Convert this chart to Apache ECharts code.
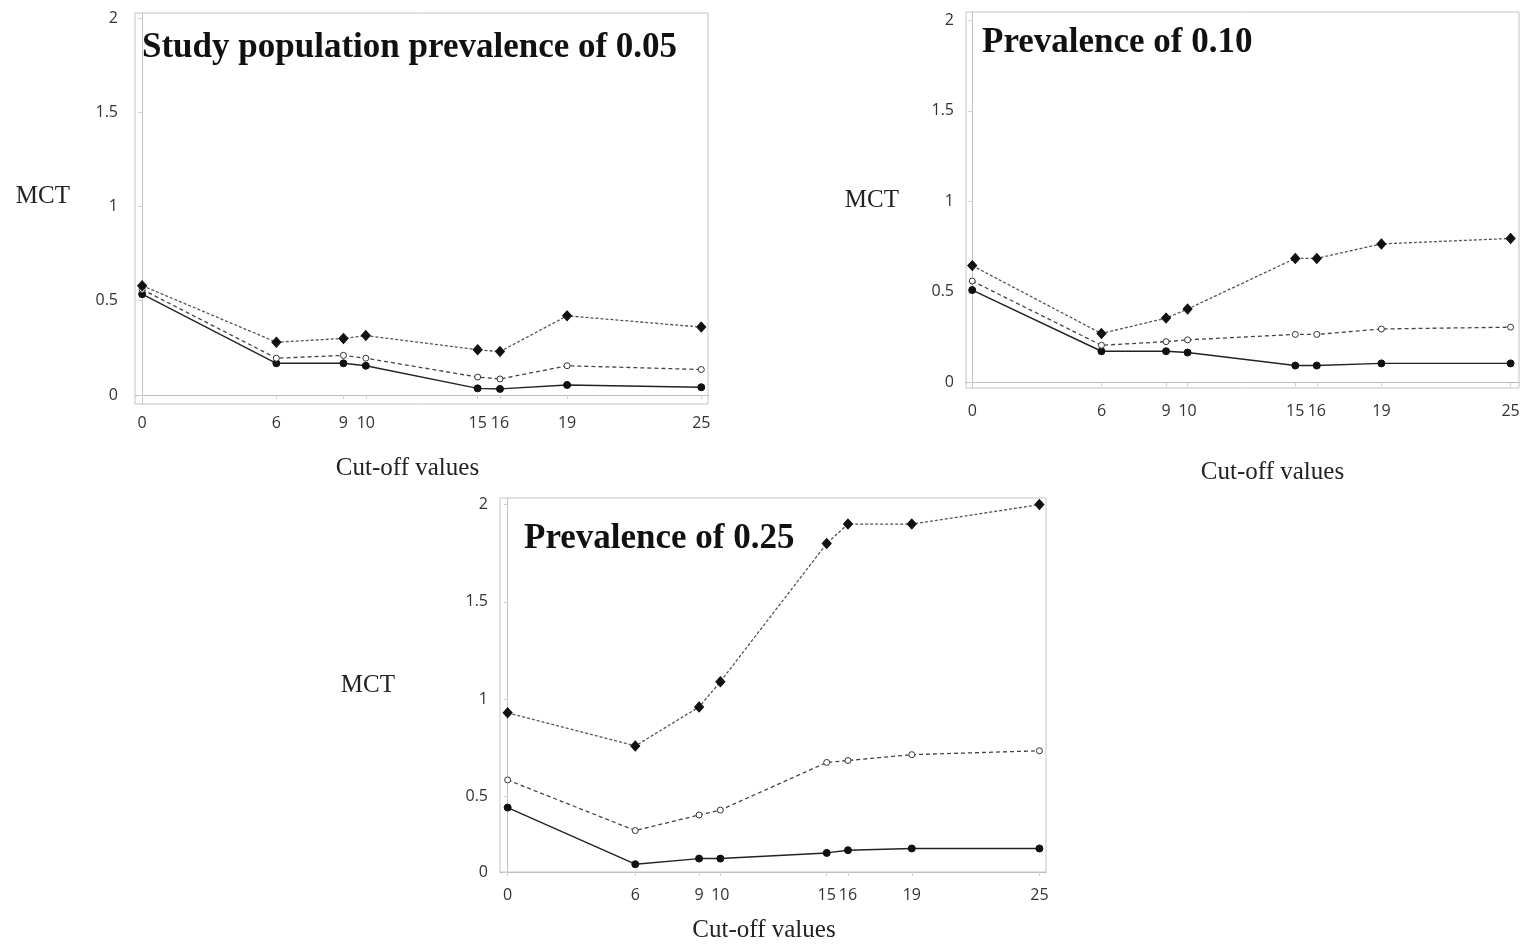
<!DOCTYPE html>
<html>
<head>
<meta charset="utf-8">
<script src="https://cdn.jsdelivr.net/npm/echarts@6/dist/echarts.min.js"></script>
<style>
  html, body { margin: 0; padding: 0; background: #fff; }
  #chart { width: 1539px; height: 944px; }
</style>
</head>
<body>
<div id="chart"></div>
<script>
// Cut-off values on the x axis
const cutoffs = [0, 6, 9, 10, 15, 16, 19, 25];
const yTicks = [0, 0.5, 1, 1.5, 2];

// MCT by cut-off, prevalence 0.05
const p05Upper = [0.58, 0.28, 0.30, 0.315, 0.24, 0.23, 0.42, 0.36];
const p05Middle = [0.56, 0.195, 0.21, 0.195, 0.095, 0.085, 0.155, 0.135];
const p05Lower = [0.535, 0.168, 0.168, 0.155, 0.035, 0.032, 0.053, 0.041];

// MCT by cut-off, prevalence 0.10
const p10Upper = [0.645, 0.27, 0.355, 0.405, 0.685, 0.685, 0.765, 0.795];
const p10Middle = [0.56, 0.205, 0.225, 0.235, 0.265, 0.265, 0.295, 0.305];
const p10Lower = [0.51, 0.172, 0.172, 0.165, 0.093, 0.093, 0.105, 0.105];

// MCT by cut-off, prevalence 0.25
const p25Upper = [0.93, 0.76, 0.96, 1.09, 1.80, 1.90, 1.90, 2.00];
const p25Middle = [0.585, 0.325, 0.405, 0.43, 0.675, 0.685, 0.715, 0.735];
const p25Lower = [0.443, 0.152, 0.181, 0.181, 0.21, 0.224, 0.233, 0.233];

const titles = ['Study population prevalence of 0.05', 'Prevalence of 0.10', 'Prevalence of 0.25'];

const pairs = arr => cutoffs.map((c, i) => [c, arr[i]]);

const serif = '"Liberation Serif", "DejaVu Serif", serif';
const sans = '"Open Sans", "Liberation Sans", sans-serif';

const panels = [
  { grid: { left: 135, top: 13, width: 573, height: 391 },
    x: [-0.32, 25.3], y: [-0.048, 2.027], yLabels: yTicks,
    data: [p05Upper, p05Middle, p05Lower],
    title: { left: 142, top: 30 },
    yName: { gap: 65, valign: 'bottom', pad: [0, 0, 0, 0] }, yMargin: 17,
    xName: { gap: 64, pad: [0, 28, 0, 0] }, xMargin: 11 },
  { grid: { left: 966, top: 12, width: 553, height: 376 },
    x: [-0.29, 25.39], y: [-0.031, 2.046], yLabels: yTicks,
    data: [p10Upper, p10Middle, p10Lower],
    title: { left: 982, top: 25 },
    yName: { gap: 67, valign: 'middle', pad: [0, 0, 0, 0] }, yMargin: 12,
    xName: { gap: 84, pad: [0, 0, 0, 60] }, xMargin: 15 },
  { grid: { left: 500, top: 498, width: 546, height: 374 },
    x: [-0.36, 25.31], y: [0.112, 2.034], yLabels: [0.112, 0.5, 1, 1.5, 2],
    data: [p25Upper, p25Middle, p25Lower],
    title: { left: 524, top: 521 },
    yName: { gap: 105, valign: 'middle', pad: [6, 0, 0, 0] }, yMargin: 12,
    xName: { gap: 58, pad: [0, 18, 0, 0] }, xMargin: 15 }
];

const lineStyles = [
  { type: [3, 2], width: 1.3, color: '#555' },
  { type: [4, 3], width: 1.3, color: '#444' },
  { type: 'solid', width: 1.4, color: '#222' }
];
const symbols = [
  { symbol: 'diamond', symbolSize: [9, 10], itemStyle: { color: '#111', borderColor: '#111' } },
  { symbol: 'circle', symbolSize: 6, itemStyle: { color: '#fff', borderColor: '#333', borderWidth: 1 } },
  { symbol: 'circle', symbolSize: 7, itemStyle: { color: '#111', borderColor: '#111' } }
];
const seriesNames = ['upper', 'middle', 'lower'];

const option = {
  animation: false,
  backgroundColor: '#fff',
  title: panels.map((p, i) => ({
    text: titles[i],
    left: p.title.left, top: p.title.top,
    padding: 0,
    textStyle: { fontFamily: serif, fontWeight: 'bold', fontSize: 35, color: '#111' }
  })),
  grid: panels.map(p => Object.assign({ show: true, borderColor: '#c4c4c4', borderWidth: 1, backgroundColor: 'transparent' }, p.grid)),
  xAxis: panels.map((p, i) => ({
    type: 'value', gridIndex: i, min: p.x[0], max: p.x[1],
    name: 'Cut-off values', nameLocation: 'middle', nameGap: p.xName.gap,
    nameTextStyle: { fontFamily: serif, fontSize: 25, color: '#222', verticalAlign: 'middle', padding: p.xName.pad },
    axisLine: { show: true, lineStyle: { color: '#bdbdbd', width: 1 } },
    axisTick: { show: true, customValues: cutoffs, length: 4, lineStyle: { color: '#cfcfcf' } },
    axisLabel: { customValues: cutoffs, margin: p.xMargin, fontFamily: sans, fontSize: 16, color: '#333' },
    splitLine: { show: false }
  })),
  yAxis: panels.map((p, i) => ({
    type: 'value', gridIndex: i, min: p.y[0], max: p.y[1],
    name: 'MCT', nameLocation: 'middle', nameRotate: 0, nameGap: p.yName.gap,
    nameTextStyle: { fontFamily: serif, fontSize: 25, color: '#222', align: 'right', verticalAlign: p.yName.valign, padding: p.yName.pad },
    axisLine: { show: true, lineStyle: { color: '#c4c4c4', width: 1 } },
    axisTick: { show: true, customValues: p.yLabels, length: 4, lineStyle: { color: '#cfcfcf' } },
    axisLabel: {
      customValues: p.yLabels, margin: p.yMargin, fontFamily: sans, fontSize: 16, color: '#333',
      formatter: v => (v < 0.25 ? '0' : String(v))
    },
    splitLine: { show: false }
  })),
  series: panels.flatMap((p, i) => p.data.map((arr, k) => Object.assign({
    type: 'line', name: seriesNames[k], xAxisIndex: i, yAxisIndex: i,
    data: pairs(arr),
    showSymbol: true, showAllSymbol: true,
    lineStyle: lineStyles[k],
    z: 3 - k
  }, symbols[k])))
};

const chart = echarts.init(document.getElementById('chart'), null, { renderer: 'canvas' });
chart.setOption(option);
</script>
</body>
</html>
